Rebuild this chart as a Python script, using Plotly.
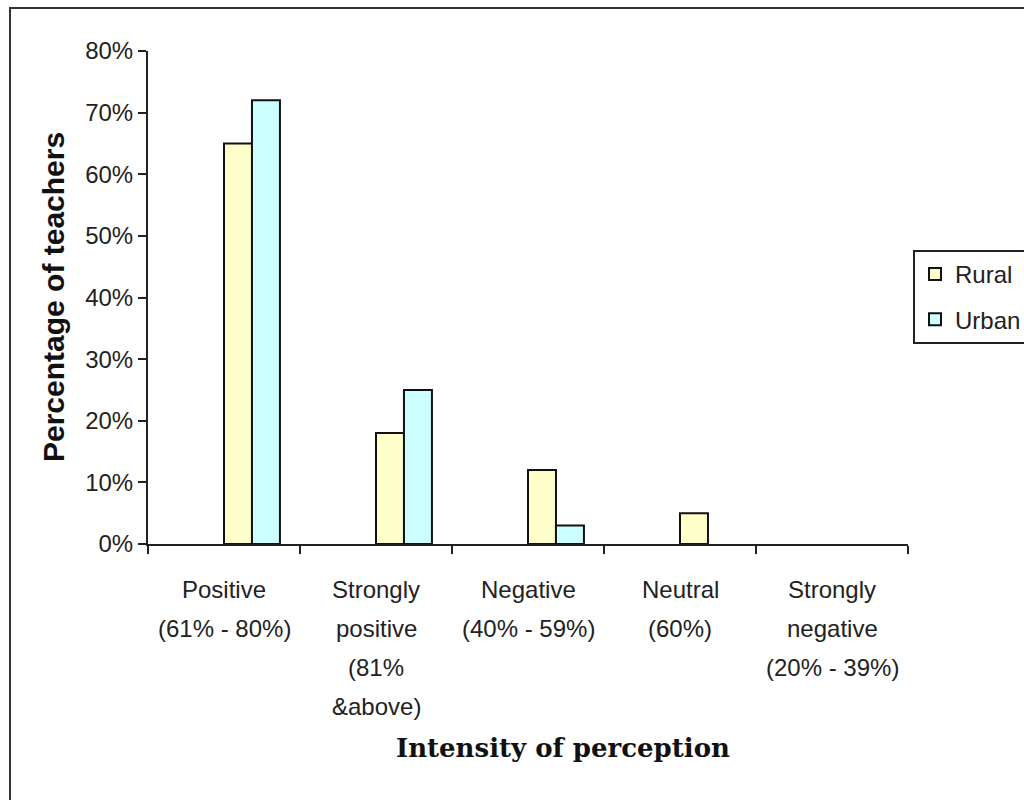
import plotly.graph_objects as go

# Categories of perception intensity and the share of teachers in each
categories = ["Positive", "Strongly positive", "Negative", "Neutral", "Strongly negative"]
category_lines = [
    ["Positive", "(61% - 80%)"],
    ["Strongly", "positive", "(81%", "&above)"],
    ["Negative", "(40% - 59%)"],
    ["Neutral", "(60%)"],
    ["Strongly", "negative", "(20% - 39%)"],
]
rural = [0.65, 0.18, 0.12, 0.05, 0.0]
urban = [0.72, 0.25, 0.03, 0.0, 0.0]

# Plot-area geometry in pixels
W, H = 1024, 800
L, R, T, B = 148, 116, 51, 256
PW = W - L - R
PH = H - T - B


def px_x(p):
    return (p - L) / PW


def px_y(p):
    return (H - B - p) / PH


def visible(values):
    # empty categories get no bar outline at all
    return [v if v > 0 else None for v in values]


BAR_W = 0.184
TICK_FONT = dict(family="Liberation Sans, Arial, sans-serif", size=24, color="#222222")

fig = go.Figure()
fig.add_trace(go.Bar(
    x=categories, y=visible(rural), name="Rural", legendgroup="rural",
    width=BAR_W, offset=0.0,
    marker=dict(color="#FFFFCC", line=dict(color="#111111", width=2)),
))
fig.add_trace(go.Bar(
    x=categories, y=visible(urban), name="Urban", legendgroup="urban",
    width=BAR_W, offset=BAR_W,
    marker=dict(color="#CCFFFF", line=dict(color="#111111", width=2)),
))

# Multi-line category labels below the axis
annotations = []
for cat, lines in zip(categories, category_lines):
    for i, line in enumerate(lines):
        annotations.append(dict(
            x=cat, xref="x", y=0, yref="paper",
            text=line, showarrow=False,
            xanchor="center", yanchor="middle",
            yshift=-(589 + 39 * i - (H - B)),
            font=TICK_FONT,
        ))

# Axis titles
annotations.append(dict(
    x=px_x(563), y=px_y(748), xref="paper", yref="paper",
    text="<b>Intensity of perception</b>", showarrow=False,
    xanchor="center", yanchor="middle",
    font=dict(family="DejaVu Serif, Liberation Serif, serif", size=26, color="#111111"),
))
annotations.append(dict(
    x=px_x(53), y=px_y(297), xref="paper", yref="paper",
    text="<b>Percentage of teachers</b>", showarrow=False, textangle=-90,
    xanchor="center", yanchor="middle",
    font=dict(family="Liberation Sans, Arial, sans-serif", size=30, color="#111111"),
))

fig.update_layout(
    width=W, height=H,
    margin=dict(l=L, r=R, t=T, b=B, pad=0, autoexpand=False),
    paper_bgcolor="white", plot_bgcolor="white",
    barmode="group",
    showlegend=True,
    legend=dict(
        x=px_x(913), y=px_y(250), xanchor="left", yanchor="top",
        bgcolor="white", bordercolor="#222222", borderwidth=2,
        font=dict(family="Liberation Sans, Arial, sans-serif", size=24, color="#222222"),
        tracegroupgap=11, traceorder="grouped",
    ),
    annotations=annotations,
    shapes=[dict(
        type="rect", xref="paper", yref="paper",
        x0=px_x(10), x1=px_x(1040), y0=px_y(8), y1=px_y(820),
        line=dict(color="#333333", width=2), fillcolor="rgba(0,0,0,0)", layer="below",
    )],
)

fig.update_xaxes(
    type="category", range=[-0.5, 4.5],
    showline=True, linecolor="#222222", linewidth=2,
    ticks="outside", ticklen=8, tickwidth=2, tickcolor="#222222",
    tickson="boundaries", showticklabels=False, showgrid=False, zeroline=False,
)
fig.update_yaxes(
    range=[0, 0.8], dtick=0.1, tickformat=".0%",
    showline=True, linecolor="#222222", linewidth=2,
    ticks="outside", ticklen=8, tickwidth=2, tickcolor="#222222",
    tickfont=TICK_FONT, showgrid=False, zeroline=False,
)

fig.write_html("out.html")
